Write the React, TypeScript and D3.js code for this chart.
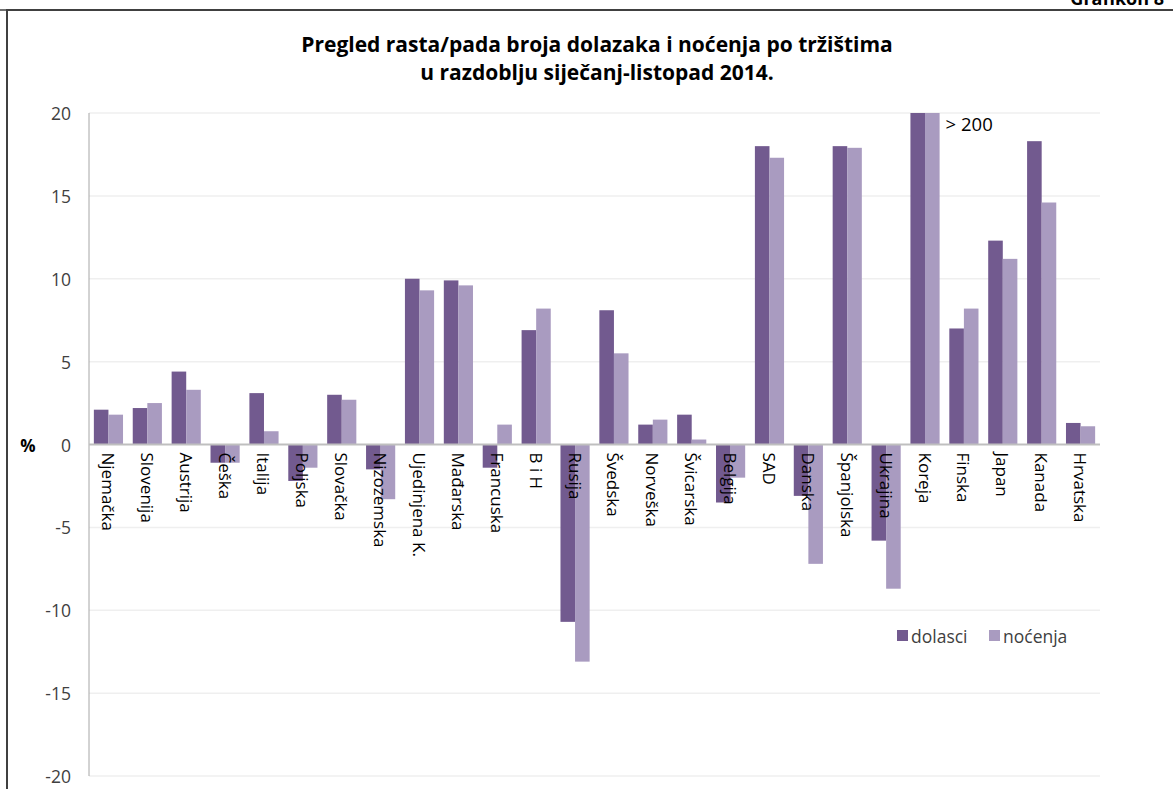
import React from "react";
import * as d3 from "d3";

const categories = [
  "Njemačka", "Slovenija", "Austrija", "Češka", "Italija", "Poljska", "Slovačka",
  "Nizozemska", "Ujedinjena K.", "Mađarska", "Francuska", "B i H", "Rusija",
  "Švedska", "Norveška", "Švicarska", "Belgija", "SAD", "Danska", "Španjolska",
  "Ukrajina", "Koreja", "Finska", "Japan", "Kanada", "Hrvatska",
];
// Koreja exceeds 200 % (bars clipped at the top of the axis)
const dolasci = [
  2.1, 2.2, 4.4, -1.1, 3.1, -2.2, 3.0, -1.5, 10.0, 9.9, -1.4, 6.9, -10.7,
  8.1, 1.2, 1.8, -3.5, 18.0, -3.1, 18.0, -5.8, 205, 7.0, 12.3, 18.3, 1.3,
];
const nocenja = [
  1.8, 2.5, 3.3, -1.1, 0.8, -1.4, 2.7, -3.3, 9.3, 9.6, 1.2, 8.2, -13.1,
  5.5, 1.5, 0.3, -2.0, 17.3, -7.2, 17.9, -8.7, 205, 8.2, 11.2, 14.6, 1.1,
];
const yTicks = [20, 15, 10, 5, 0, -5, -10, -15, -20];
const seriesNames = ["dolasci", "noćenja"];
const seriesColors = ["#725a8f", "#a99bc0"];
const titleLines = [
  "Pregled rasta/pada broja dolazaka i noćenja po tržištima",
  "u razdoblju siječanj-listopad 2014.",
];

const W = 1173;
const H = 789;
const FONT = "'Open Sans', Lato, sans-serif";

export default function App() {
  const left = 89;
  const right = 1100;
  const top = 113;
  const bottom = 776;

  const x = d3.scaleBand<string>().domain(categories).range([left, right]).paddingInner(0.25).paddingOuter(0.125);
  const x1 = d3.scaleBand<string>().domain(seriesNames).range([0, x.bandwidth()]);
  const y = d3.scaleLinear().domain([-20, 20]).range([bottom, top]);
  const clamp = (v: number) => Math.max(-20, Math.min(20, v));
  const series = [dolasci, nocenja];

  return (
    <svg width={W} height={H} style={{ position: "absolute", left: 0, top: 0, background: "#fff" }} fontFamily={FONT}>
      <rect x={0} y={0} width={W} height={H} fill="#fff" />
      {/* header */}
      <text x={1164} y={5} textAnchor="end" fontSize={18} fontWeight="bold" fill="#000">Grafikon 8</text>
      <line x1={0} x2={W} y1={10} y2={10} stroke="#404040" strokeWidth={1.5} />
      {/* frame */}
      <rect x={7} y={10} width={W + 10} height={H + 10} fill="none" stroke="#404040" strokeWidth={2} />

      {titleLines.map((t, i) => (
        <text key={i} x={597} y={52 + i * 28} textAnchor="middle" fontSize={21} fontWeight="bold" fill="#000">{t}</text>
      ))}

      {/* gridlines */}
      {yTicks.filter((t) => t !== 0).map((t) => (
        <line key={t} x1={left} x2={right} y1={y(t)} y2={y(t)} stroke="#efefef" strokeWidth={1.5} />
      ))}
      {/* y axis line */}
      <line x1={left} x2={left} y1={top} y2={bottom} stroke="#a6a6a6" strokeWidth={1} />
      {yTicks.map((t) => (
        <text key={t} x={71} y={y(t)} textAnchor="end" dominantBaseline="central" fontSize={17.5} fill="#404040">{t}</text>
      ))}
      <text x={28} y={y(0) + 1} textAnchor="middle" dominantBaseline="central" fontSize={17} fontWeight="bold" fill="#000">%</text>

      {/* bars */}
      {categories.map((c, i) => (
        <g key={c}>
          {series.map((s, j) => {
            const v = clamp(s[i]);
            const y0 = y(0);
            const yv = y(v);
            return (
              <rect
                key={j}
                x={(x(c) as number) + (x1(seriesNames[j]) as number)}
                y={Math.min(y0, yv)}
                width={x1.bandwidth()}
                height={Math.abs(yv - y0)}
                fill={seriesColors[j]}
              />
            );
          })}
        </g>
      ))}

      {/* zero line */}
      <line x1={left} x2={right} y1={y(0)} y2={y(0)} stroke="#bfbfbf" strokeWidth={2} />

      {/* category labels */}
      {categories.map((c) => (
        <text
          key={c}
          transform={`translate(${(x(c) as number) + x.bandwidth() / 2}, ${y(0) + 8}) rotate(90)`}
          textAnchor="start"
          dominantBaseline="central"
          fontSize={17}
          fill="#000"
        >
          {c}
        </text>
      ))}

      {/* > 200 annotation */}
      <text x={(x("Koreja") as number) + x.bandwidth() + 6} y={123} dominantBaseline="central" fontSize={18.5} fill="#000">&gt; 200</text>

      {/* legend */}
      {seriesNames.map((n, i) => (
        <g key={n} transform={`translate(${897 + i * 92}, 636)`}>
          <rect x={0} y={-6} width={11} height={11} fill={seriesColors[i]} />
          <text x={14} y={0} dominantBaseline="central" fontSize={17.5} fill="#404040">{n}</text>
        </g>
      ))}
    </svg>
  );
}
